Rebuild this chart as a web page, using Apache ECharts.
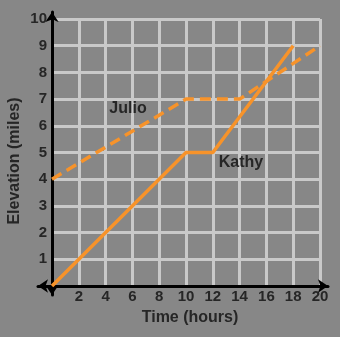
<!DOCTYPE html>
<html>
<head>
<meta charset="utf-8">
<script src="https://cdn.jsdelivr.net/npm/echarts@6/dist/echarts.min.js"></script>
<style>
html,body{margin:0;padding:0;background:#878787;}
#c{width:340px;height:337px;}
</style>
</head>
<body>
<div id="c"></div>
<script>
// Data
const julioX = [0, 10, 14, 20];
const julioY = [4, 7, 7, 9];
const kathyX = [0, 10, 12, 18];
const kathyY = [0, 5, 5, 9];
const xTicks = [0, 2, 4, 6, 8, 10, 12, 14, 16, 18, 20];
const yTicks = [0, 1, 2, 3, 4, 5, 6, 7, 8, 9, 10];
const xTitle = 'Time (hours)';
const yTitle = 'Elevation (miles)';
const seriesNames = ['Julio', 'Kathy'];

const orange = '#f7932a';
const gridCol = '#c9c9c9';
const txt = '#262626';
const font = 'Liberation Sans, Arial, sans-serif';

const chart = echarts.init(document.getElementById('c'));
chart.setOption({
  animation: false,
  backgroundColor: '#878787',
  grid: [
    {left: 52, top: 19, width: 268, height: 267},
    {left: 38, top: 12, width: 290, height: 283}
  ],
  xAxis: [
    {gridIndex: 0, type: 'value', min: 0, max: 20, interval: 2,
     axisLine: {show: false}, axisTick: {show: false},
     splitLine: {show: true, lineStyle: {color: gridCol, width: 3}},
     axisLabel: {margin: 3, color: txt, fontSize: 15, fontWeight: 'bold', fontFamily: font,
       formatter: v => (xTicks.includes(v) && v !== 0) ? String(v) : ''}},
    {gridIndex: 1, type: 'value', min: -1.045, max: 20.6,
     axisLine: {show: true, onZero: true, lineStyle: {color: '#000', width: 3},
       symbol: ['arrow', 'arrow'], symbolSize: [10, 10]},
     axisTick: {show: false}, axisLabel: {show: false}, splitLine: {show: false}}
  ],
  yAxis: [
    {gridIndex: 0, type: 'value', min: 0, max: 10, interval: 1,
     axisLine: {show: false}, axisTick: {show: false},
     splitLine: {show: true, lineStyle: {color: gridCol, width: 3}},
     axisLabel: {margin: 5, color: txt, fontSize: 15, fontWeight: 'bold', fontFamily: font,
       formatter: v => (yTicks.includes(v) && v !== 0) ? String(v) : ''}},
    {gridIndex: 1, type: 'value', min: -0.337, max: 10.26,
     axisLine: {show: true, onZero: true, lineStyle: {color: '#000', width: 3},
       symbol: ['arrow', 'arrow'], symbolSize: [10, 10]},
     axisTick: {show: false}, axisLabel: {show: false}, splitLine: {show: false}}
  ],
  series: [
    {name: seriesNames[0], type: 'line', xAxisIndex: 0, yAxisIndex: 0,
     data: julioX.map((x, i) => [x, julioY[i]]), showSymbol: false, symbol: 'none',
     lineStyle: {color: orange, width: 3.5, type: [11, 6]}, z: 5},
    {name: seriesNames[1], type: 'line', xAxisIndex: 0, yAxisIndex: 0,
     data: kathyX.map((x, i) => [x, kathyY[i]]), showSymbol: false, symbol: 'none',
     lineStyle: {color: orange, width: 3.5}, z: 5}
  ],
  graphic: [
    {type: 'text', x: 190, y: 318, z: 10,
     style: {text: xTitle, fill: txt, font: 'bold 16px ' + font, align: 'center', verticalAlign: 'middle'}},
    {type: 'text', x: 15, y: 161, rotation: Math.PI / 2, z: 10,
     style: {text: yTitle, fill: txt, font: 'bold 16px ' + font, align: 'center', verticalAlign: 'middle'}},
    {type: 'text', x: 128, y: 109, z: 10,
     style: {text: seriesNames[0], fill: txt, font: 'bold 16px ' + font, align: 'center', verticalAlign: 'middle'}},
    {type: 'text', x: 241, y: 163, z: 10,
     style: {text: seriesNames[1], fill: txt, font: 'bold 16px ' + font, align: 'center', verticalAlign: 'middle'}}
  ]
});
</script>
</body>
</html>
